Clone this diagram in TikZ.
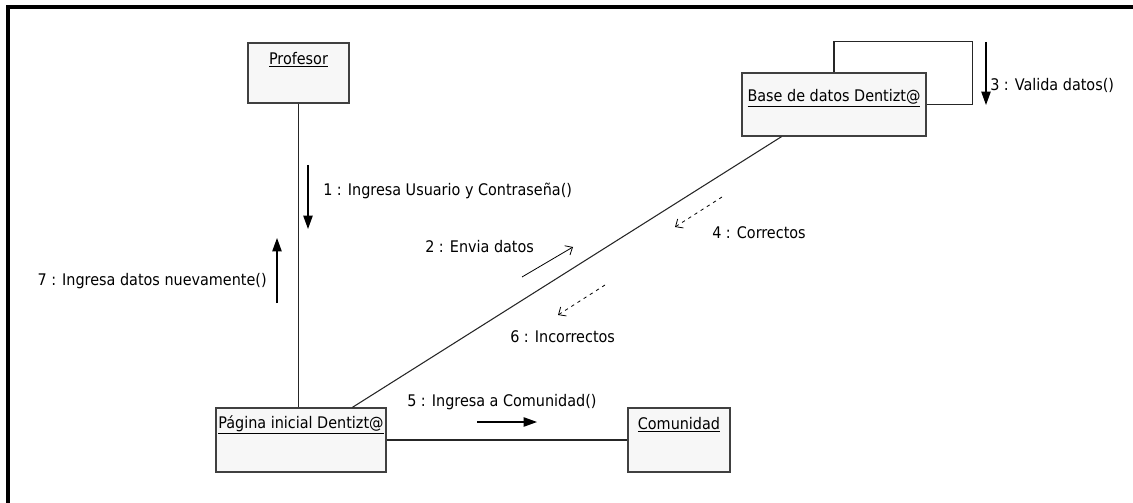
\documentclass[tikz,border=0pt]{standalone}
\usepackage{fontspec}
\setmainfont{DejaVu Sans Condensed}
\usetikzlibrary{arrows.meta,calc}

\begin{document}
\begin{tikzpicture}[
  x=0.75pt,
  y=-0.75pt,
  frame/.style={draw=black,line width=2.3pt},
  obj/.style={draw=black!75,fill=black!3,line width=0.9pt,inner sep=0pt},
  objname/.style={font=\fontsize{12}{14}\selectfont,inner sep=0pt},
  lnk/.style={draw=black!85,line width=0.8pt},
  msg/.style={draw=black,line width=0.9pt,-{Triangle[length=10pt,width=7pt]}},
  send/.style={draw=black,line width=0.6pt,-{Straight Barb[length=4.5pt,width=8pt]}},
  reply/.style={draw=black,line width=0.6pt,dash pattern=on 2.5pt off 3pt,-{Straight Barb[length=4.5pt,width=8pt]}},
  lbl/.style={font=\fontsize{12}{14}\selectfont,inner sep=0pt,anchor=west}
]
  \useasboundingbox (0,0) rectangle (1133,503);
  \draw[frame] (8,503) -- (8,7) -- (1133,7);

  % objects
  \node[obj,minimum width=75.75pt,minimum height=45pt] (prof) at (298.5,73) {};
  \node[obj,minimum width=138pt,minimum height=47.25pt] (bd) at (834,104.5) {};
  \node[obj,minimum width=127.5pt,minimum height=48pt] (pag) at (301,440) {};
  \node[obj,minimum width=76.5pt,minimum height=48pt] (com) at (679,440) {};
  \node[objname] (nprof) at (298.5,60) {\underline{Profesor}};
  \node[objname] (nbd) at (834,98) {\underline{Base de datos Dentizt@}};
  \node[objname] (npag) at (301,425) {\underline{Página inicial Dentizt@}};
  \node[objname] (ncom) at (679,425) {\underline{Comunidad}};

  % links
  \draw[lnk] (prof.south) -- (prof.south |- pag.north);
  \draw[lnk] (pag.east) -- (com.west);
  \draw[lnk] ($(pag.north west)!0.8!(pag.north east)$) -- ($(bd.south west)!0.217!(bd.south east)$);
  \draw[lnk] (bd.north) -- ++(0,-31) -| ($(bd.east)+(46,0)$) -- (bd.east);

  % messages
  \coordinate (m1a) at (308,165);  \coordinate (m1b) at (308,229);
  \coordinate (m2a) at (522,277);  \coordinate (m2b) at (573,247);
  \coordinate (m3a) at (986,42);   \coordinate (m3b) at (986,105);
  \coordinate (m4a) at (722,197);  \coordinate (m4b) at (675,227);
  \coordinate (m5a) at (477,422);  \coordinate (m5b) at (537,422);
  \coordinate (m6a) at (605,285);  \coordinate (m6b) at (558,315);
  \coordinate (m7a) at (277,303);  \coordinate (m7b) at (277,238);
  \draw[msg] (m1a) -- (m1b);
  \draw[send] (m2a) -- (m2b);
  \draw[msg] (m3a) -- (m3b);
  \draw[reply] (m4a) -- (m4b);
  \draw[msg] (m5a) -- (m5b);
  \draw[reply] (m6a) -- (m6b);
  \draw[msg] (m7a) -- (m7b);

  \node[lbl] (l1) at (323,191) {1 : Ingresa Usuario y Contraseña()};
  \node[lbl] (l2) at (425,247) {2 : Envia datos};
  \node[lbl] (l3) at (990,85) {3 : Valida datos()};
  \node[lbl] (l4) at (712,233) {4 : Correctos};
  \node[lbl] (l5) at (407,402) {5 : Ingresa a Comunidad()};
  \node[lbl] (l6) at (510,337) {6 : Incorrectos};
  \node[lbl,anchor=east] (l7) at (267,281) {7 : Ingresa datos nuevamente()};
\end{tikzpicture}
\end{document}
